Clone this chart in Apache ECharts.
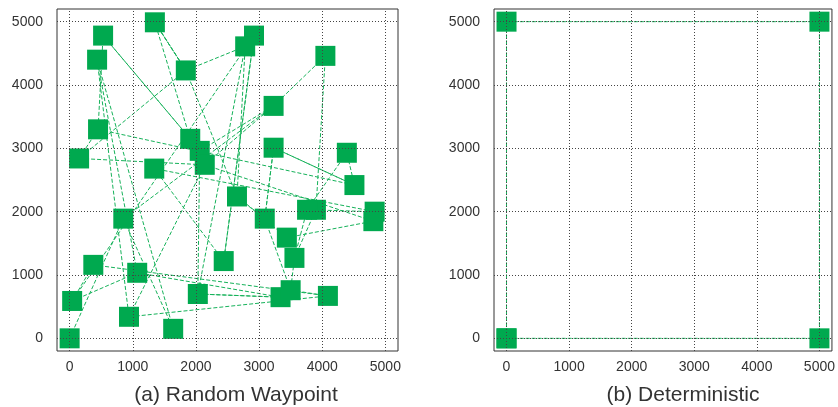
<!DOCTYPE html>
<html>
<head>
<meta charset="utf-8">
<script src="https://cdn.jsdelivr.net/npm/echarts@6/dist/echarts.min.js"></script>
<style>
html,body{margin:0;padding:0;background:#fff;}
#c{width:838px;height:407px;}
</style>
</head>
<body>
<div id="c"></div>
<script>
// Random waypoint trajectory (visiting order), x and y in metres
const rwpX = [0, 850, 1640, 435, 1070, 3340, 2030, 2060, 3230, 4050, 3900, 3560, 3500, 3090, 3230, 4510, 4390, 3760, 4830, 1340, 2440, 2920, 40, 375, 4090, 940, 2140, 4810, 3440, 2650, 2780, 1840, 1350, 1910, 530, 450, 150];
const rwpY = [0, 1890, 150, 4400, 1035, 650, 700, 2960, 3670, 4460, 2030, 1270, 760, 1890, 3010, 2420, 2930, 2030, 2000, 2680, 1220, 4780, 590, 1160, 670, 340, 2740, 1850, 1590, 2240, 4610, 4230, 4990, 3150, 4780, 3300, 2840];
// Further legs of the random waypoint trajectory (pairs of waypoints, null = break)
const legX = [1350, 1840, null, 530, 1910, null, 435, 940, null, 1840, 150, null, 1840, 2650, null, 450, 4510, null, 150, 2140, null, 3230, 850, null, 2920, 2440, null, 2780, 2030, null, 3560, 3760, null, 2030, 3340, null, 40, 1070, null, 3500, 4090, null, 2650, 3090, null, 3230, 3090, null, 3230, 4510, null, 1350, 1840, null, 3230, 2140];
const legY = [4990, 4230, null, 4780, 3150, null, 4400, 340, null, 4230, 2840, null, 4230, 2240, null, 3300, 2420, null, 2840, 2740, null, 3670, 1890, null, 4780, 1220, null, 4610, 700, null, 1270, 2030, null, 700, 650, null, 590, 1035, null, 760, 670, null, 2240, 1890, null, 3010, 1890, null, 3010, 2420, null, 4990, 4230, null, 3670, 2740];
// Deterministic trajectory (square corners)
const detX = [0, 0, 5000, 5000, 0];
const detY = [0, 5000, 5000, 0, 0];
// Tick labels / grid values
const tickValues = [0, 1000, 2000, 3000, 4000, 5000];
const titles = ['(a) Random Waypoint', '(b) Deterministic'];

const green = '#00a94f';
const lineGreen = '#16b25a';
const font = "'Liberation Sans', Arial, sans-serif";

function pairs(xs, ys){ return xs.map((x,i)=> (x === null ? '-' : [x, ys[i]])); }

function makeAxis(i, margin){
  return {
    type:'value', gridIndex:i, min:-200, max:5200, interval:200,
    axisLine:{show:false}, axisTick:{show:false}, splitLine:{show:false},
    axisLabel:{
      margin:margin, color:'#333', fontSize:14, fontFamily:font,
      formatter:v => (tickValues.indexOf(v) >= 0 ? String(v) : '')
    }
  };
}
function gridSeries(i){
  const data = [];
  tickValues.forEach(v => { data.push({xAxis:v}); data.push({yAxis:v}); });
  return {
    type:'line', xAxisIndex:i, yAxisIndex:i, data:[], z:1, silent:true,
    markLine:{
      silent:true, symbol:['none','none'], label:{show:false},
      lineStyle:{type:[1,2], color:'#444', width:1},
      emphasis:{disabled:true},
      data:data
    }
  };
}
function pathSeries(i, xs, ys, withSymbols){
  return {
    type:'line', xAxisIndex:i, yAxisIndex:i, z: withSymbols ? 3 : 2,
    data:pairs(xs, ys), connectNulls:false,
    symbol: withSymbols ? 'rect' : 'none', symbolSize:20, showSymbol:withSymbols,
    itemStyle:{color:green},
    lineStyle:{color:lineGreen, width:1, type:[4,2]},
    animation:false
  };
}

const chart = echarts.init(document.getElementById('c'));
chart.setOption({
  animation:false,
  backgroundColor:'#fff',
  grid:[
    {left:57, top:9, width:341, height:342, show:true, borderColor:'#333', borderWidth:1, backgroundColor:'transparent'},
    {left:494, top:9, width:342, height:342, show:true, borderColor:'#333', borderWidth:1, backgroundColor:'transparent'}
  ],
  xAxis:[makeAxis(0, 9), makeAxis(1, 9)],
  yAxis:[makeAxis(0, 14), makeAxis(1, 14)],
  series:[
    gridSeries(0), gridSeries(1),
    pathSeries(0, legX, legY, false),
    pathSeries(0, rwpX, rwpY, true),
    pathSeries(1, detX, detY, true)
  ],
  graphic:[
    {type:'text', x:236, y:395, style:{text:titles[0], textAlign:'center', textVerticalAlign:'middle', font:'21px ' + font, fill:'#333'}},
    {type:'text', x:683, y:395, style:{text:titles[1], textAlign:'center', textVerticalAlign:'middle', font:'21px ' + font, fill:'#333'}}
  ]
});
</script>
</body>
</html>
